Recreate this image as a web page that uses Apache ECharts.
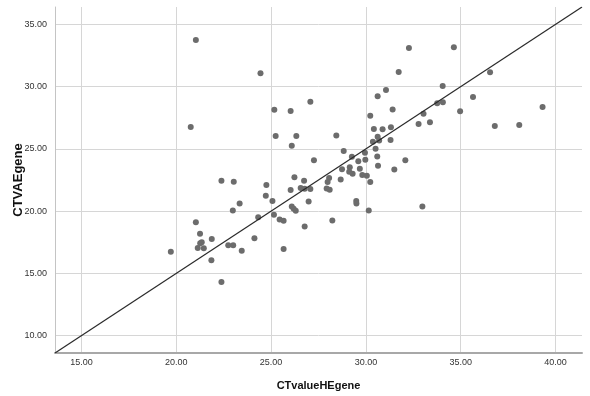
<!DOCTYPE html>
<html>
<head>
<meta charset="utf-8">
<script src="https://cdn.jsdelivr.net/npm/echarts@6/dist/echarts.min.js"></script>
<style>
html,body{margin:0;padding:0;background:#fff;}
#chart{width:590px;height:396px;}
</style>
</head>
<body>
<div id="chart"></div>
<script>
// CTvalueHEgene (x) values
var heValues = [21.03,24.44,20.76,22.38,23.03,24.75,24.72,25.17,26.03,25.24,26.33,26.09,26.23,26.03,23.34,22.98,21.03,21.25,21.34,21.26,21.13,21.45,21.87,22.74,23.00,23.45,24.12,24.32,19.71,21.85,22.38,25.07,25.15,25.45,25.66,25.66,26.09,26.19,26.30,27.07,27.26,26.56,26.74,26.77,27.07,26.98,26.77,28.44,30.42,30.88,31.32,30.62,30.37,30.70,31.30,28.83,30.51,30.60,30.64,29.26,29.60,29.95,29.97,28.74,29.15,29.68,29.12,29.30,29.81,30.05,30.23,28.06,27.98,28.67,27.93,28.09,29.49,29.50,30.15,28.23,31.06,30.62,31.41,30.23,31.73,32.27,34.64,36.55,34.05,35.65,33.76,34.06,34.97,39.32,33.04,32.78,33.38,36.80,38.09,32.08,31.50,32.98];
// CTVAEgene (y) values
var vaeValues = [33.74,31.07,26.76,22.43,22.35,22.09,21.23,28.15,28.05,26.04,26.04,25.26,22.73,21.69,20.61,20.05,19.11,18.18,17.50,17.42,17.04,17.02,17.76,17.25,17.25,16.82,17.81,19.51,16.74,16.06,14.31,20.81,19.71,19.33,19.23,16.96,20.37,20.19,20.03,28.79,24.09,21.85,22.43,21.79,21.78,20.77,18.77,26.08,26.60,26.58,26.74,25.98,25.58,25.68,25.72,24.84,25.02,24.38,23.64,24.36,24.01,24.68,24.12,23.36,23.53,23.40,23.17,23.00,22.91,22.85,22.33,22.66,22.34,22.55,21.81,21.71,20.81,20.61,20.05,19.25,29.73,29.23,28.17,27.67,31.17,33.10,33.16,31.16,30.05,29.17,28.67,28.75,28.02,28.37,27.82,27.00,27.15,26.84,26.92,24.08,23.34,20.37];
// reference line end points
var lineX = [13.6, 41.4];
var lineY = [8.6, 36.4];
// axis ranges
var xRange = [13.6, 41.4];
var yRange = [8.6, 36.4];

var points = heValues.map(function(v, i){ return [v, vaeValues[i]]; });
var linePts = lineX.map(function(v, i){ return [v, lineY[i]]; });

function fmt(v){
  var r = Math.round(v / 5) * 5;
  return Math.abs(v - r) < 1e-6 ? v.toFixed(2) : '';
}

var chart = echarts.init(document.getElementById('chart'), null, {renderer:'canvas'});
chart.setOption({
  animation: false,
  backgroundColor: '#ffffff',
  grid: {left: 55, right: 8, top: 7, bottom: 43, containLabel: false, outerBoundsMode: 'none'},
  xAxis: {
    type: 'value', min: xRange[0], max: xRange[1],
    name: 'CTvalueHEgene', nameLocation: 'middle', nameGap: 27, nameMoveOverlap: false,
    nameTextStyle: {fontFamily: 'Liberation Sans, Arial, sans-serif', fontWeight: 'bold', fontSize: 11, color: '#111'},
    axisLine: {show: true, lineStyle: {color: '#a8a8a8', width: 2}},
    axisTick: {show: false},
    axisLabel: {formatter: fmt, showMinLabel: false, showMaxLabel: false, margin: 5,
      fontFamily: 'Liberation Sans Narrow, Arial Narrow, sans-serif', fontSize: 9, color: '#333'},
    splitLine: {show: true, showMinLine: false, showMaxLine: false, lineStyle: {color: '#d6d6d6', width: 1}}
  },
  yAxis: {
    type: 'value', min: yRange[0], max: yRange[1],
    name: 'CTVAEgene', nameLocation: 'middle', nameGap: 30, nameMoveOverlap: false,
    nameTextStyle: {fontFamily: 'Liberation Sans, Arial, sans-serif', fontWeight: 'bold', fontSize: 13, color: '#111'},
    axisLine: {show: true, lineStyle: {color: '#c4c4c4', width: 1}},
    axisTick: {show: false},
    axisLabel: {formatter: fmt, showMinLabel: false, showMaxLabel: false, margin: 8,
      fontFamily: 'Liberation Sans Narrow, Arial Narrow, sans-serif', fontSize: 9, color: '#333'},
    splitLine: {show: true, showMinLine: false, showMaxLine: false, lineStyle: {color: '#d6d6d6', width: 1}}
  },
  series: [
    {
      type: 'scatter', data: points, symbolSize: 6,
      itemStyle: {color: '#6c6c6c', opacity: 1}, z: 2
    },
    {
      type: 'line', data: linePts, symbol: 'none',
      lineStyle: {color: '#2a2a2a', width: 1.2}, z: 3
    }
  ]
});
</script>
</body>
</html>
